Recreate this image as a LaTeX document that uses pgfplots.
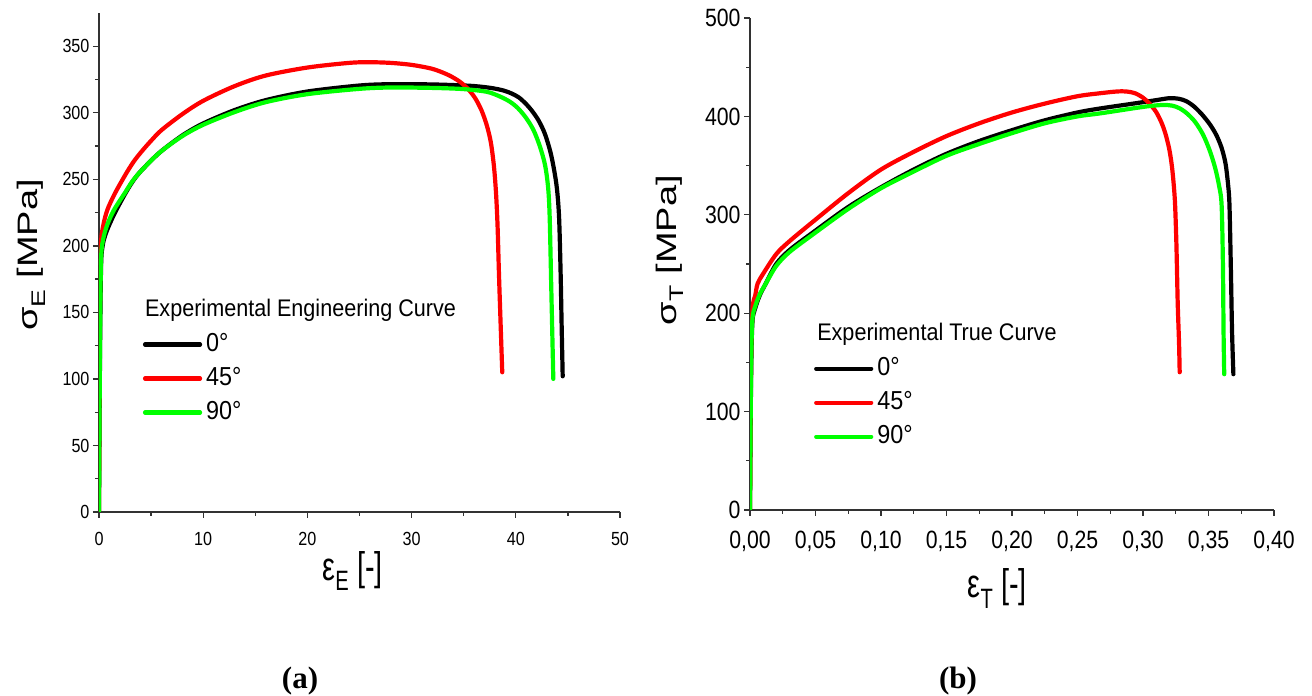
\documentclass[border=0pt]{standalone}
\usepackage{fontspec}
\setmainfont{Liberation Sans}
\newfontfamily\tickfont[FakeStretch=0.85]{Liberation Sans}
\newfontfamily\labfont[FakeStretch=0.72]{Liberation Sans}
\newfontfamily\legfont[FakeStretch=0.9]{Liberation Sans}
\newfontfamily\capfont{Liberation Serif}
\usepackage{graphicx}
\usepackage{pgfplots}
\pgfplotsset{compat=1.18}
\definecolor{cred}{RGB}{255,0,0}
\definecolor{cgreen}{RGB}{0,255,0}
\definecolor{axgray}{RGB}{50,50,50}
\pgfplotsset{
  mystyle/.style={
    scale only axis,
    axis x line=bottom, axis y line=left,
    axis line style={-, line width=1.6pt, draw=axgray},
    tick align=outside,
    major tick length=6pt, minor tick length=4pt,
    every tick/.style={line width=1.3pt, axgray},
    minor tick num=1,
    /pgf/number format/assume math mode=true,
    every axis plot/.append style={line width=4.2pt, line cap=round, line join=round, smooth, tension=0.5},
    legend image code/.code={\draw[##1,sharp plot] (0pt,0pt) -- (55pt,0pt);},
    legend cell align=left,
  }
}
\begin{document}
\begin{tikzpicture}
\useasboundingbox (0,0) rectangle (1312pt,696pt);
% ---------------- (a) engineering ----------------
\begin{axis}[mystyle,
  at={(99pt,184pt)}, anchor=south west,
  width=521pt, height=499pt,
  xmin=0, xmax=50, ymin=0, ymax=375,
  xtick={0,10,...,50}, ytick={0,50,...,350},
  tick label style={font=\tickfont\fontsize{19}{19}\selectfont},
  xticklabel style={yshift=-11pt},
  xlabel={\labfont\fontsize{40}{40}\selectfont ε\textsubscript{E} [-]},
  xlabel style={at={(axis description cs:0.487,-0.118)}, anchor=center},
  ylabel={\scalebox{1}[0.74]{\fontsize{38}{38}\selectfont σ\textsubscript{E} [MPa]}},
  ylabel style={at={(axis description cs:-0.13,0.515)}, anchor=center},
  legend style={at={(axis description cs:0.084,0.358)}, anchor=north west,
    draw=none, fill=none, inner sep=0pt, row sep=12pt, column sep=4pt,
    font=\legfont\fontsize{26}{26}\selectfont,
    nodes={inner sep=0pt, text height=18pt, text depth=4pt}},
]
\addplot[black] coordinates {(0,0)(0.1,120)(0.2,185)(0.35,200)(0.6,208)(1,216)(1.6,226)(2.5,239)(3.2,248)(4,256)(5.8,270)(8,283)(10,292)(13,302)(16,309.5)(20,316)(25,320.5)(28,321.5)(32,321.3)(35.6,320.3)(37.5,318.8)(38.8,316.8)(39.6,314.5)(40.3,311.5)(41.0,306.5)(41.6,301)(42.2,294)(42.8,284)(43.4,268)(43.9,246)(44.15,222)(44.3,180)(44.4,140)(44.5,102)};
\addlegendentry{0°}
\addplot[cred] coordinates {(0,0)(0.08,150)(0.18,200)(0.4,215)(0.8,227)(1.5,239)(2.5,253)(3.3,263)(4.1,271)(5,279)(6,287)(8,299)(10,309)(13,320)(16,328)(20,334)(24,337.5)(26,338)(28,337.5)(30,336)(32,333)(33.5,328.5)(34.6,323.5)(35.4,318)(36.1,311)(36.7,302)(37.2,291)(37.6,278)(37.9,260)(38.1,240)(38.25,215)(38.4,175)(38.7,105)};
\addlegendentry{45°}
\addplot[cgreen] coordinates {(0,0)(0.1,130)(0.2,190)(0.4,205)(0.8,216)(1.44,227)(2.5,240)(3.2,248.5)(4,256)(5.8,270)(8,282.5)(10,291)(13,300.5)(16,308)(20,314)(25,318)(28,319)(32,318.7)(35,317.8)(37.2,315.8)(38.4,312.5)(39.4,308.5)(40.2,303.5)(41.0,296)(41.7,287)(42.3,275)(42.8,261)(43.1,244)(43.25,222)(43.4,170)(43.6,100)};
\addlegendentry{90°}
\node[anchor=base west, inner sep=0pt, font=\legfont\fontsize{24}{24}\selectfont] at (axis description cs:0.088,0.392) {Experimental Engineering Curve};
\end{axis}
% ---------------- (b) true ----------------
\begin{axis}[mystyle,
  at={(750pt,186pt)}, anchor=south west,
  width=524pt, height=492pt,
  xmin=0, xmax=0.4, ymin=0, ymax=500,
  xtick={0,0.05,...,0.41}, ytick={0,100,...,500},
  tick label style={font=\tickfont\fontsize{25}{25}\selectfont},
  xticklabel style={yshift=-12pt, /pgf/number format/.cd, fixed, fixed zerofill, precision=2, use comma},
  xlabel={\labfont\fontsize{40}{40}\selectfont ε\textsubscript{T} [-]},
  xlabel style={at={(axis description cs:0.472,-0.16)}, anchor=center},
  ylabel={\scalebox{1}[0.74]{\fontsize{38}{38}\selectfont σ\textsubscript{T} [MPa]}},
  ylabel style={at={(axis description cs:-0.153,0.528)}, anchor=center},
  legend style={at={(axis description cs:0.122,0.31)}, anchor=north west,
    draw=none, fill=none, inner sep=0pt, row sep=12pt, column sep=4pt,
    font=\legfont\fontsize{26}{26}\selectfont,
    nodes={inner sep=0pt, text height=18pt, text depth=4pt}},
]
\addplot[black] coordinates {(0,0)(0.0008,130)(0.0018,190)(0.004,205)(0.0074,218)(0.012,230)(0.02,250)(0.03,264)(0.049,283)(0.075,308)(0.1,328)(0.125,346)(0.15,362)(0.175,375)(0.2,386)(0.225,396)(0.25,404)(0.267,408)(0.2926,413)(0.31,416.5)(0.32,418.5)(0.327,418)(0.333,415.5)(0.339,410)(0.345,402)(0.351,392)(0.356,381)(0.360,368)(0.363,352)(0.365,330)(0.366,310)(0.367,250)(0.368,180)(0.369,138)};
\addlegendentry{0°}
\addplot[cred] coordinates {(0,0)(0.0008,150)(0.002,205)(0.004,218)(0.0058,230)(0.01,240)(0.02,260)(0.03,273)(0.049,294)(0.075,322)(0.1,346)(0.125,364)(0.15,380)(0.175,393)(0.2,404)(0.225,413)(0.25,420.5)(0.267,423.5)(0.28,425.3)(0.2875,425.3)(0.294,423.5)(0.300,419)(0.305,413)(0.310,404.5)(0.314,394)(0.317,383)(0.320,367)(0.322,350)(0.3235,330)(0.3245,310)(0.3255,270)(0.3265,210)(0.3275,170)(0.328,140)};
\addlegendentry{45°}
\addplot[cgreen] coordinates {(0,0)(0.0008,140)(0.0018,193)(0.004,207)(0.0074,219)(0.012,230)(0.02,248)(0.03,262)(0.049,281)(0.075,306)(0.1,327)(0.125,344)(0.15,360)(0.175,372)(0.2,383)(0.225,393)(0.25,400)(0.267,403)(0.2926,408.2)(0.305,410.5)(0.315,411.6)(0.322,411)(0.328,408.2)(0.334,402.5)(0.340,394)(0.346,381)(0.351,365)(0.355,348)(0.358,330)(0.360,310)(0.361,250)(0.3615,180)(0.362,138)};
\addlegendentry{90°}
\node[anchor=base west, inner sep=0pt, font=\legfont\fontsize{24}{24}\selectfont] at (axis description cs:0.128,0.3445) {Experimental True Curve};
\end{axis}
\node[font=\capfont\bfseries\fontsize{31}{31}\selectfont] at (300pt,15pt) {(a)};
\node[font=\capfont\bfseries\fontsize{31}{31}\selectfont] at (958pt,15pt) {(b)};
\end{tikzpicture}
\end{document}
